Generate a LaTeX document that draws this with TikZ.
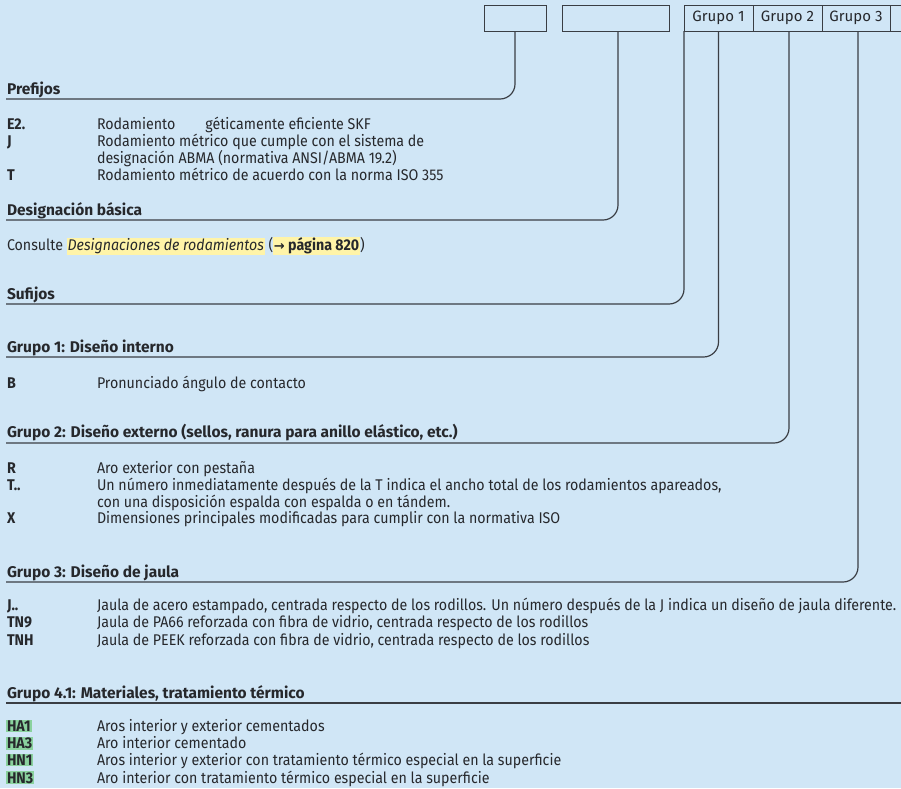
\documentclass[tikz,border=0pt]{standalone}
\usepackage{fontspec}
\setmainfont{Fira Sans}[FakeStretch=0.917]
\newfontfamily\hdfont{Fira Sans}[FakeStretch=1.0]
\newfontfamily\boxfont{Fira Sans}[FakeStretch=1.0]
\newfontfamily\arrowfont{DejaVu Sans}
\usetikzlibrary{calc}
\definecolor{bg}{RGB}{208,230,246}
\definecolor{ink}{RGB}{38,40,44}
\definecolor{linec}{RGB}{58,62,68}
\definecolor{hlyellow}{RGB}{255,244,168}
\definecolor{hlgreen}{RGB}{138,210,158}
\newcommand\fs{\fontsize{15.5}{18}\selectfont}
\newcommand\hlY[1]{{\setlength\fboxsep{0.8pt}\colorbox{hlyellow}{#1}}}
\newcommand\hlG[1]{{\setlength\fboxsep{0.8pt}\colorbox{hlgreen}{#1}}}
\tikzset{
  txt/.style={inner sep=0pt, outer sep=0pt, text=ink, font=\fs, anchor=base west},
  lbl/.style={txt, font=\fs\bfseries},
  hd/.style={txt, font=\hdfont\fs\bfseries},
  topbox/.style={draw=linec, line width=1pt, minimum height=26, inner sep=0pt, outer sep=0pt, anchor=north west, text=ink, font=\boxfont\fontsize{15}{18}\selectfont},
  conn/.style={draw=linec, line width=1.2pt, rounded corners=15},
  rulel/.style={draw=linec, line width=1.4pt}
}
\begin{document}
\begin{tikzpicture}[x=1pt,y=-1pt]
\useasboundingbox[fill=bg] (0,0) rectangle (901,788);
% top boxes
\node[topbox, minimum width=62] (b1) at (484,5) {};
\node[topbox, minimum width=107] (b2) at (562,5) {};
\node[topbox, minimum width=69] (g1) at (684,5) {Grupo 1};
\node[topbox, minimum width=69] (g2) at (753,5) {Grupo 2};
\node[topbox, minimum width=68] (g3) at (822,5) {Grupo 3};
\draw[draw=linec, line width=1pt] (901,5) -- (g3.north east) -- (g3.south east) -- (901,31);
% rule end points
\coordinate (rP) at (6,99);
\coordinate (rD) at (6,220);
\coordinate (rS) at (6,304);
\coordinate (rG1) at (6,357);
\coordinate (rG2) at (6,443);
\coordinate (rG3) at (6,582);
\coordinate (rG4) at (6,703);
\coordinate (rG4e) at (901,703);
% connectors
\draw[conn] (b1.south) |- (rP);
\draw[conn] ([xshift=2.5]b2.south) |- (rD);
\draw[conn] (g1.south west) |- (rS);
\draw[conn] (g1.south) |- (rG1);
\draw[conn] ([xshift=1.5]g2.south) |- (rG2);
\draw[conn] ([xshift=2]g3.south) |- (rG3);
\draw[rulel] (rG4) -- (rG4e);
% Prefijos
\node[hd] (hP) at (7,94.5) {Prefijos};
\node[lbl] (lE2) at (7,129.5) {E2.};
\node[txt] (dE2) at (97,129.5) {Rodamiento\hspace{30pt}géticamente eficiente SKF};
\node[lbl] (lJ) at (7,146.5) {J};
\node[txt] (dJa) at (97,146.5) {Rodamiento métrico que cumple con el sistema de};
\node[txt] (dJb) at (97,163.5) {designación ABMA (normativa ANSI/ABMA 19.2)};
\node[lbl] (lT) at (7,180) {T};
\node[txt] (dT) at (97,180) {Rodamiento métrico de acuerdo con la norma ISO 355};
% Designacion basica
\node[hd] (hD) at (7,215.5) {Designación básica};
\node[txt] (dC) at (7,250.5) {Consulte \hlY{\textit{Designaciones de rodamientos}} (\hlY{\textbf{{\arrowfont\bfseries\fontsize{13}{15}\selectfont →} página 820}})};
% Sufijos
\node[hd] (hS) at (7,299.5) {Sufijos};
% Grupo 1
\node[hd] (hG1) at (7,352.5) {Grupo 1: Diseño interno};
\node[lbl] (lB) at (7,388.5) {B};
\node[txt] (dB) at (97,388.5) {Pronunciado ángulo de contacto};
% Grupo 2
\node[hd] (hG2) at (7,437.5) {Grupo 2: Diseño externo (sellos, ranura para anillo elástico, etc.)};
\node[lbl] (lR) at (7,473.5) {R};
\node[txt] (dR) at (97,473.5) {Aro exterior con pestaña};
\node[lbl] (lTT) at (7,490.5) {T..};
\node[txt] (dTTa) at (97,490.5) {Un número inmediatamente después de la T indica el ancho total de los rodamientos apareados,};
\node[txt] (dTTb) at (97,507.5) {con una disposición espalda con espalda o en tándem.};
\node[lbl] (lX) at (7,523.5) {X};
\node[txt] (dX) at (97,523.5) {Dimensiones principales modificadas para cumplir con la normativa ISO};
% Grupo 3
\node[hd] (hG3) at (7,577) {Grupo 3: Diseño de jaula};
\node[lbl] (lJJ) at (7,610.5) {J..};
\node[txt] (dJJ) at (97,610.5) {Jaula de acero estampado, centrada respecto de los rodillos. Un número después de la J indica un diseño de jaula diferente.};
\node[lbl] (lTN9) at (7,627.5) {TN9};
\node[txt] (dTN9) at (97,627.5) {Jaula de PA66 reforzada con fibra de vidrio, centrada respecto de los rodillos};
\node[lbl] (lTNH) at (7,645.5) {TNH};
\node[txt] (dTNH) at (97,645.5) {Jaula de PEEK reforzada con fibra de vidrio, centrada respecto de los rodillos};
% Grupo 4.1
\node[hd] (hG4) at (7,698) {Grupo 4.1: Materiales, tratamiento térmico};
\node[lbl] (lHA1) at (6.2,731.5) {\hlG{HA1}};
\node[txt] (dHA1) at (97,731.5) {Aros interior y exterior cementados};
\node[lbl] (lHA3) at (6.2,748.5) {\hlG{HA3}};
\node[txt] (dHA3) at (97,748.5) {Aro interior cementado};
\node[lbl] (lHN1) at (6.2,765.5) {\hlG{HN1}};
\node[txt] (dHN1) at (97,765.5) {Aros interior y exterior con tratamiento térmico especial en la superficie};
\node[lbl] (lHN3) at (6.2,783) {\hlG{HN3}};
\node[txt] (dHN3) at (97,783) {Aro interior con tratamiento térmico especial en la superficie};
\end{tikzpicture}
\end{document}
